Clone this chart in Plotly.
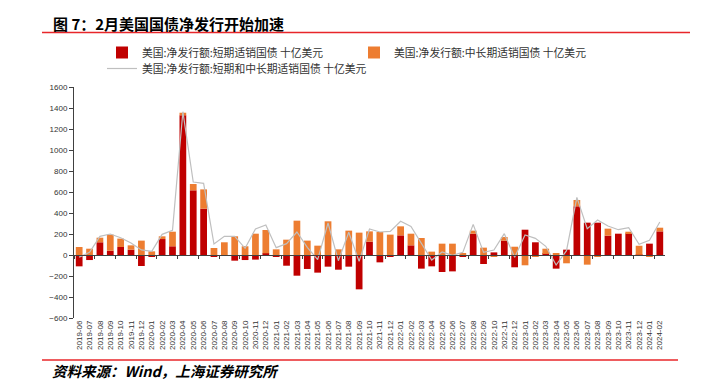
import plotly.graph_objects as go

months = [
    "2019-06", "2019-07", "2019-08", "2019-09", "2019-10", "2019-11", "2019-12",
    "2020-01", "2020-02", "2020-03", "2020-04", "2020-05", "2020-06",
    "2020-07", "2020-08", "2020-09", "2020-10", "2020-11", "2020-12",
    "2021-01", "2021-02", "2021-03", "2021-04", "2021-05", "2021-06",
    "2021-07", "2021-08", "2021-09", "2021-10", "2021-11", "2021-12",
    "2022-01", "2022-02", "2022-03", "2022-04", "2022-05", "2022-06",
    "2022-07", "2022-08", "2022-09", "2022-10", "2022-11", "2022-12",
    "2023-01", "2023-02", "2023-03", "2023-04", "2023-05", "2023-06",
    "2023-07", "2023-08", "2023-09", "2023-10", "2023-11", "2023-12",
    "2024-01", "2024-02",
]

short_term = [
    -108, -48, 121, 41, 76, 51, -105,
    -16, 152, 83, 1330, 616, 441,
    -13, -8, -54, -48, -44, 16,
    -16, -102, -197, -133, -168, -111,
    -140, -111, -327, 127, -70, -19,
    187, 92, -130, -108, -162, -156,
    -16, 203, -86, 25, 137, -117,
    241, 121, 10, -130, 51, 464,
    308, 308, 184, 203, 206, 2,
    108, 225,
]

long_term = [
    76, 60, 44, 153, 80, 41, 137,
    35, 26, 139, 25, 60, 184,
    67, 121, 178, 83, 203, 222,
    54, 146, 327, 137, 89, 321,
    54, 232, 213, 98, 219, 194,
    86, 111, 162, 32, 108, 108,
    19, 29, 70, -13, 34, 79,
    -98, -10, 50, 13, -79, 60,
    -92, -10, 67, -8, 16, 86,
    -10, 35,
]

total = [
    -20, 25, 178, 200, 165, 114, 48,
    35, 197, 235, 1365, 695, 683,
    105, 178, 178, 64, 248, 286,
    70, 108, 219, 73, -44, 305,
    -54, 216, -60, 248, 219, 225,
    321, 273, 114, -48, 29, -3,
    25, 292, 25, 48, 203, -22,
    190, 159, 83, -95, 41, 549,
    251, 333, 276, 241, 260, 102,
    140, 314,
]

y_ticks = [-600, -400, -200, 0, 200, 400, 600, 800, 1000, 1200, 1400, 1600]

name_short = "美国:净发行额:短期适销国债 十亿美元"
name_long = "美国:净发行额:中长期适销国债 十亿美元"
name_total = "美国:净发行额:短期和中长期适销国债 十亿美元"

FONT = "Liberation Sans, Arial, Noto Sans CJK SC, sans-serif"
CJK = "Noto Sans CJK SC, sans-serif"

fig = go.Figure()
fig.add_trace(go.Bar(x=months, y=short_term, name=name_short,
                     marker=dict(color="#C00000", line=dict(width=0)), legend="legend"))
fig.add_trace(go.Bar(x=months, y=long_term, name=name_long,
                     marker=dict(color="#ED7D31", line=dict(width=0)), legend="legend"))
fig.add_trace(go.Scatter(x=months, y=total, name=name_total, mode="lines",
                         line=dict(color="#BFBFBF", width=1.2), legend="legend2",
                         xaxis="x2"))

W, H = 705, 380
ml, mr, mt, mb = 74, 40, 87, 62
pw = W - ml - mr
ph = H - mt - mb

def px_x(p):
    return (p - ml) / pw

def px_y(p):
    return 1 - (p - mt) / ph

zero_pos = (0 - y_ticks[0]) / (y_ticks[-1] - y_ticks[0])

fig.update_layout(
    width=W, height=H,
    margin=dict(l=ml, r=mr, t=mt, b=mb),
    paper_bgcolor="white", plot_bgcolor="white",
    barmode="relative", bargap=0.35,
    font=dict(family=FONT, size=8, color="#333333"),
    showlegend=True,
    legend=dict(orientation="h", x=px_x(102), y=px_y(38), xanchor="left", yanchor="top",
                font=dict(family=CJK, size=10.8, color="#333333"),
                entrywidth=207, entrywidthmode="pixels",
                itemwidth=30, bgcolor="rgba(0,0,0,0)", tracegroupgap=0),
    legend2=dict(orientation="h", x=px_x(102), y=px_y(54), xanchor="left", yanchor="top",
                 font=dict(family=CJK, size=10.8, color="#333333"),
                 itemwidth=30, bgcolor="rgba(0,0,0,0)"),
    xaxis=dict(type="category", categoryorder="array", categoryarray=months,
               range=[-0.5, len(months) - 0.5],
               tickangle=-90, tickfont=dict(size=8, color="#333333"),
               showline=False, ticks="", showgrid=False, zeroline=False,
               automargin=False),
    xaxis2=dict(type="category", categoryorder="array", categoryarray=months,
                range=[-0.5, len(months) - 0.5], overlaying="x",
                anchor="free", position=zero_pos, side="bottom",
                showticklabels=False, showline=True, linecolor="#404040", linewidth=1,
                ticks="outside", ticklen=3, tickcolor="#404040", tickson="boundaries",
                showgrid=False, zeroline=False),
    yaxis=dict(range=[y_ticks[0], y_ticks[-1]], tickvals=y_ticks,
               showline=True, linecolor="#404040", linewidth=1,
               ticks="outside", ticklen=4, tickcolor="#404040",
               showgrid=False, zeroline=False, tickfont=dict(size=8, color="#333333"),
               automargin=False),
)

fig.add_annotation(text="<b>图 7：2月美国国债净发行开始加速</b>", xref="paper", yref="paper",
                   x=px_x(51), y=px_y(23), xanchor="left", yanchor="middle", showarrow=False,
                   font=dict(family=CJK, size=15, color="#000000"))
fig.add_annotation(text="<b><i>资料来源：Wind，上海证券研究所</i></b>", xref="paper", yref="paper",
                   x=px_x(50), y=px_y(370), xanchor="left", yanchor="middle", showarrow=False,
                   font=dict(family=CJK, size=14.5, color="#000000"))
fig.add_shape(type="line", xref="paper", yref="paper", x0=px_x(42), x1=px_x(690),
              y0=px_y(32.5), y1=px_y(32.5), line=dict(color="#E8262A", width=1.5))
fig.add_shape(type="line", xref="paper", yref="paper", x0=px_x(42), x1=px_x(678),
              y0=px_y(360), y1=px_y(360), line=dict(color="#E8262A", width=1.5))

fig.write_html("out.html", config={"displayModeBar": False},
               post_script="document.body.style.margin='0';document.body.style.padding='0';")
